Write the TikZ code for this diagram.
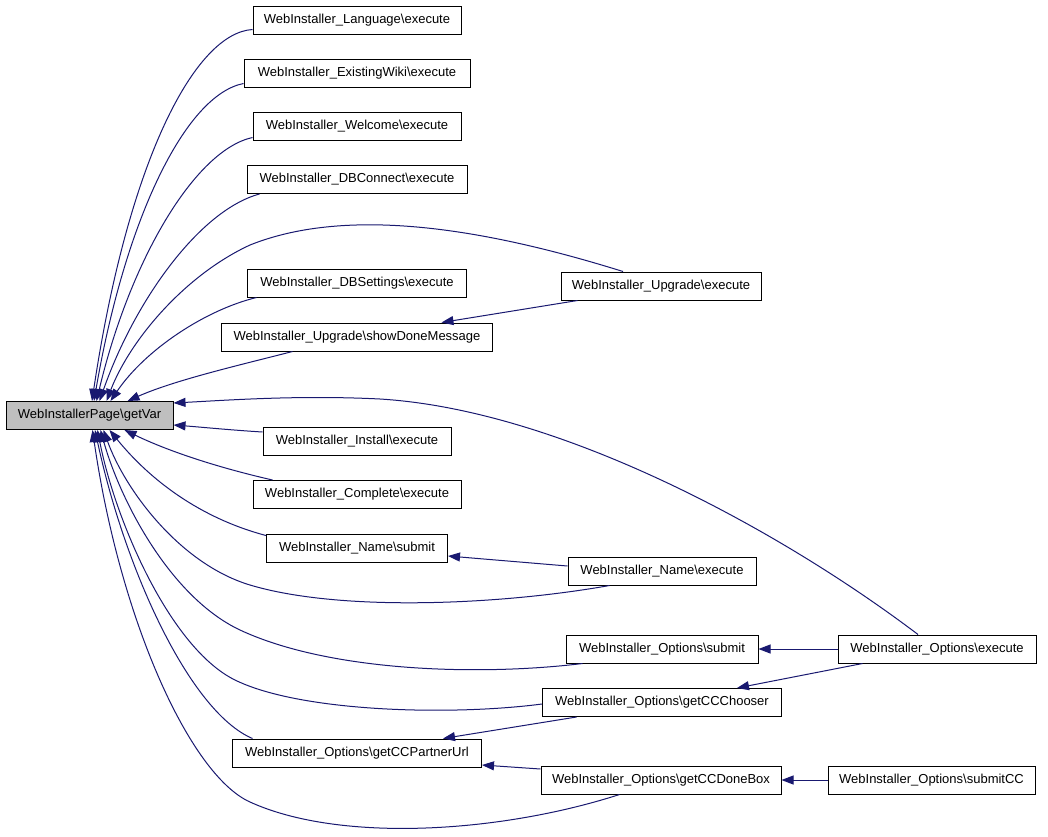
\documentclass[tikz,border=0pt]{standalone}
\usepackage{fontspec}
\setmainfont{Liberation Sans}
\usetikzlibrary{arrows.meta,calc}
\definecolor{navyedge}{HTML}{191970}
\definecolor{gvfill}{HTML}{BFBFBF}
\newcommand\bsl{\textbackslash}
\begin{document}
\begin{tikzpicture}[x=1pt,y=-1pt,
  fn/.style={draw=black,line width=1pt,fill=white,minimum height=28pt,inner xsep=2pt,inner ysep=0pt,font=\fontsize{13}{15}\selectfont},
  edge/.style={draw=navyedge,line width=1pt,-{Triangle[length=12pt,width=9pt]}}]
\useasboundingbox[fill=white] (0,0) rectangle (1048,836);

% nodes
\node[fn,fill=gvfill,minimum width=167pt] (gv) at (89.5,415.5) {WebInstallerPage\bsl getVar};
\node[fn,minimum width=208pt] (lang) at (357,20) {WebInstaller\_Language\bsl execute};
\node[fn,minimum width=226pt] (ew) at (357,73) {WebInstaller\_ExistingWiki\bsl execute};
\node[fn,minimum width=208pt] (wel) at (357,126) {WebInstaller\_Welcome\bsl execute};
\node[fn,minimum width=220pt] (dbc) at (357,179.5) {WebInstaller\_DBConnect\bsl execute};
\node[fn,minimum width=219pt] (dbs) at (357,283) {WebInstaller\_DBSettings\bsl execute};
\node[fn,minimum width=271pt] (sdm) at (357,337) {WebInstaller\_Upgrade\bsl showDoneMessage};
\node[fn,minimum width=200pt] (upe) at (661,286) {WebInstaller\_Upgrade\bsl execute};
\node[fn,minimum width=188pt] (ins) at (357,441) {WebInstaller\_Install\bsl execute};
\node[fn,minimum width=208pt] (cmp) at (357,494.5) {WebInstaller\_Complete\bsl execute};
\node[fn,minimum width=181pt] (nsub) at (357,548) {WebInstaller\_Name\bsl submit};
\node[fn,minimum width=188pt] (nex) at (662,571) {WebInstaller\_Name\bsl execute};
\node[fn,minimum width=192pt] (osub) at (662,649) {WebInstaller\_Options\bsl submit};
\node[fn,minimum width=198pt] (oex) at (937,649) {WebInstaller\_Options\bsl execute};
\node[fn,minimum width=239pt] (chooser) at (662,702.5) {WebInstaller\_Options\bsl getCCChooser};
\node[fn,minimum width=249pt] (partner) at (357,753) {WebInstaller\_Options\bsl getCCPartnerUrl};
\node[fn,minimum width=240pt] (done) at (661,780) {WebInstaller\_Options\bsl getCCDoneBox};
\node[fn,minimum width=207pt] (subcc) at (931.5,780) {WebInstaller\_Options\bsl submitCC};

% edges into getVar (top)
\draw[edge] ([yshift=5pt]lang.south west) .. controls (195,33) and (128,160) .. ([xshift=2.5pt]gv.north);
\draw[edge] ([yshift=4pt]ew.south west) .. controls (185,95) and (125,220) .. ([xshift=4.5pt]gv.north);
\draw[edge] ([yshift=3pt]wel.south west) .. controls (195,150) and (130,260) .. ([xshift=7pt]gv.north);
\draw[edge] ([xshift=13pt]dbc.south west) .. controls (200,210) and (135,300) .. ([xshift=10pt]gv.north);
\draw[edge] ([xshift=-38pt]upe.north) .. controls (490,230) and (350,205) .. (250,245) .. controls (185,275) and (130,340) .. ([xshift=17pt]gv.north);
\draw[edge] ([xshift=9.5pt]dbs.south west) .. controls (205,310) and (145,350) .. ([xshift=21pt]gv.north);
\draw[edge] ([xshift=71.5pt]sdm.south west) .. controls (240,365) and (175,380) .. ([xshift=38pt]gv.north);
% right side
\draw[edge] ([xshift=-19pt]oex.north) .. controls (780,530) and (560,410) .. (380,399) .. controls (300,395) and (230,400) .. ([yshift=12.5pt]gv.east);
\draw[edge] ([yshift=9pt]ins.west) .. controls (230,430) and (200,427) .. ([yshift=-9.5pt]gv.east);
% bottom
\draw[edge] ([xshift=20pt]cmp.north west) .. controls (220,468) and (170,452) .. ([xshift=35pt]gv.south);
\draw[edge] ([yshift=-2pt]nsub.north west) .. controls (200,518) and (150,480) .. ([xshift=20pt]gv.south);
\draw[edge] ([xshift=42pt]nex.south west) .. controls (500,605) and (340,612) .. (250,585) .. controls (180,564) and (125,490) .. ([xshift=14pt]gv.south);
\draw[edge] ([xshift=17pt]osub.south west) .. controls (480,676) and (330,672) .. (240,630) .. controls (170,597) and (120,500) .. ([xshift=11pt]gv.south);
\draw[edge] ([yshift=-1.5pt]chooser.west) .. controls (450,716) and (300,712) .. (235,680) .. controls (170,648) and (115,520) .. ([xshift=8pt]gv.south);
\draw[edge] ([xshift=20.5pt]partner.north west) .. controls (190,712) and (125,570) .. ([xshift=5.5pt]gv.south);
\draw[edge] ([xshift=79pt]done.south west) .. controls (500,833) and (340,843) .. (250,802) .. controls (190,775) and (120,620) .. ([xshift=3pt]gv.south);

% secondary edges
\draw[edge] ([xshift=17pt]upe.south west) -- ([xshift=84.5pt]sdm.north);
\draw[edge] ([yshift=5pt]nex.west) -- ([yshift=-8pt]nsub.east);
\draw[edge] (oex.west) -- (osub.east);
\draw[edge] ([xshift=25pt]oex.south west) -- ([xshift=75pt]chooser.north);
\draw[edge] ([xshift=34.5pt]chooser.south west) -- ([xshift=86pt]partner.north);
\draw[edge] ([yshift=11pt]done.west) -- ([yshift=-12pt]partner.east);
\draw[edge] (subcc.west) -- (done.east);
\end{tikzpicture}
\end{document}
